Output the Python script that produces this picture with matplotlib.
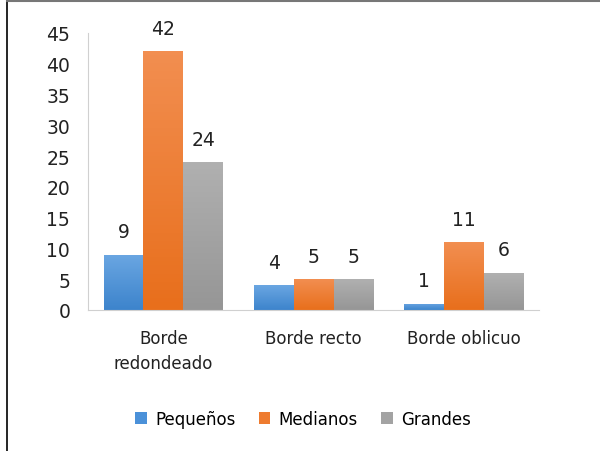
import numpy as np
import matplotlib.pyplot as plt
from matplotlib.lines import Line2D
from matplotlib.colors import LinearSegmentedColormap

categories = ["Borde\nredondeado", "Borde recto", "Borde oblicuo"]
series_names = ["Pequeños", "Medianos", "Grandes"]
pequenos = [9, 4, 1]
medianos = [42, 5, 11]
grandes = [24, 5, 6]
colors = ["#4b91d9", "#ee7b2f", "#a3a3a3"]
# light (top) / dark (bottom) shades for the bar gradient
shades = [("#6aa6e2", "#3d84cc"), ("#f28e50", "#e86f1c"), ("#b0b0b0", "#969696")]

plt.rcParams["font.family"] = "DejaVu Sans"

fig = plt.figure(figsize=(6, 4.52), dpi=100)
ax = fig.add_axes([0.147, 0.312, 0.752, 0.613])

x = np.arange(len(categories))
w = 0.265
grad = np.linspace(1, 0, 64).reshape(-1, 1)
for i, (vals, name) in enumerate(zip([pequenos, medianos, grandes], series_names)):
    bars = ax.bar(x + (i - 1) * w, vals, width=w, color=colors[i], label=name)
    cmap = LinearSegmentedColormap.from_list("g%d" % i, [shades[i][1], shades[i][0]])
    for b, v in zip(bars, vals):
        im = ax.imshow(grad, cmap=cmap, aspect="auto", vmin=0, vmax=1,
                       extent=[b.get_x(), b.get_x() + b.get_width(), 0, v], zorder=2)
        im.set_clip_path(b)
        ax.text(b.get_x() + b.get_width() / 2, v + 2.2, str(v),
                ha="center", va="bottom", fontsize=13.5, color="#222222")

ax.set_xlim(-0.5, 2.5)
ax.set_ylim(0, 45)
ax.set_yticks(range(0, 46, 5))
ax.set_xticks(x)
ax.set_xticklabels(categories, fontsize=12, color="#222222", linespacing=1.5)
ax.tick_params(axis="y", labelsize=13.5, labelcolor="#222222", length=0, pad=13)
ax.tick_params(axis="x", length=0, pad=14)
for s in ["top", "right"]:
    ax.spines[s].set_visible(False)
ax.spines["left"].set_color("#d0d0d0")
ax.spines["bottom"].set_color("#d0d0d0")

ax.legend(loc="center", bbox_to_anchor=(0.505, 0.071),
          bbox_transform=fig.transFigure, ncol=3, frameon=False,
          fontsize=12, handlelength=0.7, handleheight=0.7,
          handletextpad=0.5, columnspacing=1.4)

# frame lines of the picture
fig.add_artist(Line2D([0.012, 0.012], [0, 1], color="black", lw=1.2))
fig.add_artist(Line2D([0.012, 1], [0.995, 0.995], color="#777777", lw=1.5))

fig.savefig("out.png", dpi=100)
